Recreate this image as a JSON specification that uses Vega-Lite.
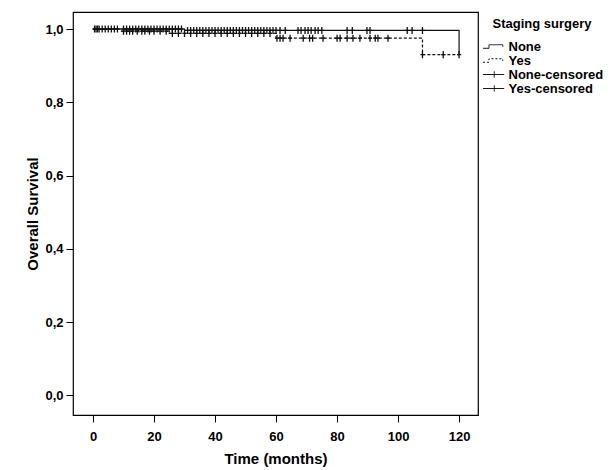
{
  "$schema": "https://vega.github.io/schema/vega-lite/v6.json",
  "autosize": "none",
  "width": 405,
  "height": 403,
  "padding": {"left": 73, "top": 12, "right": 136, "bottom": 55},
  "background": "white",
  "config": {
    "view": {"stroke": "#000", "strokeWidth": 1.2},
    "font": "Liberation Sans",
    "axis": {"grid": false, "domain": false, "tickColor": "#000", "tickSize": 7, "labelColor": "#000", "titleColor": "#000", "labelFont": "Liberation Sans", "titleFont": "Liberation Sans", "labelFontWeight": "bold", "titleFontWeight": "bold", "labelFontSize": 13, "titleFontSize": 15},
    "legend": {
      "orient": "right", "offset": -4.5, "padding": 6, "titleAnchor": "middle",
      "titleFont": "Liberation Sans", "titleFontWeight": "bold", "titleFontSize": 13, "titleColor": "#000", "titlePadding": 9,
      "labelFont": "Liberation Sans", "labelFontWeight": "bold", "labelFontSize": 13, "labelColor": "#000", "labelOffset": 15.5,
      "rowPadding": 0, "symbolSize": 50, "symbolStrokeColor": "#111", "symbolFillColor": "transparent", "symbolStrokeWidth": 1, "symbolOpacity": 1
    }
  },
  "datasets": {
    "curveNone": [
      {"series": "None", "time": 0, "surv": 1.0},
      {"series": "None", "time": 30, "surv": 0.996},
      {"series": "None", "time": 120, "surv": 0.93}
    ],
    "curveYes": [
      {"series": "Yes", "time": 0, "surv": 1.0},
      {"series": "Yes", "time": 9, "surv": 0.994},
      {"series": "Yes", "time": 25, "surv": 0.988},
      {"series": "Yes", "time": 60, "surv": 0.975},
      {"series": "Yes", "time": 108, "surv": 0.93},
      {"series": "Yes", "time": 120, "surv": 0.93}
    ],
    "censored": [
      {"series": "None-censored", "time": 0.5, "surv": 1.0},
      {"series": "None-censored", "time": 1, "surv": 1.0},
      {"series": "None-censored", "time": 1.5, "surv": 1.0},
      {"series": "None-censored", "time": 2, "surv": 1.0},
      {"series": "None-censored", "time": 3, "surv": 1.0},
      {"series": "None-censored", "time": 4, "surv": 1.0},
      {"series": "None-censored", "time": 5, "surv": 1.0},
      {"series": "None-censored", "time": 6, "surv": 1.0},
      {"series": "None-censored", "time": 7, "surv": 1.0},
      {"series": "None-censored", "time": 8, "surv": 1.0},
      {"series": "None-censored", "time": 10, "surv": 1.0},
      {"series": "None-censored", "time": 11, "surv": 1.0},
      {"series": "None-censored", "time": 12, "surv": 1.0},
      {"series": "None-censored", "time": 13, "surv": 1.0},
      {"series": "None-censored", "time": 14, "surv": 1.0},
      {"series": "None-censored", "time": 15, "surv": 1.0},
      {"series": "None-censored", "time": 16, "surv": 1.0},
      {"series": "None-censored", "time": 17, "surv": 1.0},
      {"series": "None-censored", "time": 18, "surv": 1.0},
      {"series": "None-censored", "time": 19, "surv": 1.0},
      {"series": "None-censored", "time": 20, "surv": 1.0},
      {"series": "None-censored", "time": 21, "surv": 1.0},
      {"series": "None-censored", "time": 22, "surv": 1.0},
      {"series": "None-censored", "time": 23, "surv": 1.0},
      {"series": "None-censored", "time": 24, "surv": 1.0},
      {"series": "None-censored", "time": 25, "surv": 1.0},
      {"series": "None-censored", "time": 26, "surv": 1.0},
      {"series": "None-censored", "time": 27, "surv": 1.0},
      {"series": "None-censored", "time": 28, "surv": 1.0},
      {"series": "None-censored", "time": 29, "surv": 1.0},
      {"series": "None-censored", "time": 31, "surv": 0.996},
      {"series": "None-censored", "time": 32, "surv": 0.996},
      {"series": "None-censored", "time": 33, "surv": 0.996},
      {"series": "None-censored", "time": 34, "surv": 0.996},
      {"series": "None-censored", "time": 35, "surv": 0.996},
      {"series": "None-censored", "time": 36, "surv": 0.996},
      {"series": "None-censored", "time": 37, "surv": 0.996},
      {"series": "None-censored", "time": 38, "surv": 0.996},
      {"series": "None-censored", "time": 39, "surv": 0.996},
      {"series": "None-censored", "time": 40, "surv": 0.996},
      {"series": "None-censored", "time": 41, "surv": 0.996},
      {"series": "None-censored", "time": 42, "surv": 0.996},
      {"series": "None-censored", "time": 43, "surv": 0.996},
      {"series": "None-censored", "time": 44, "surv": 0.996},
      {"series": "None-censored", "time": 45, "surv": 0.996},
      {"series": "None-censored", "time": 46, "surv": 0.996},
      {"series": "None-censored", "time": 47, "surv": 0.996},
      {"series": "None-censored", "time": 48, "surv": 0.996},
      {"series": "None-censored", "time": 49, "surv": 0.996},
      {"series": "None-censored", "time": 50, "surv": 0.996},
      {"series": "None-censored", "time": 51, "surv": 0.996},
      {"series": "None-censored", "time": 52, "surv": 0.996},
      {"series": "None-censored", "time": 53, "surv": 0.996},
      {"series": "None-censored", "time": 54, "surv": 0.996},
      {"series": "None-censored", "time": 55, "surv": 0.996},
      {"series": "None-censored", "time": 56, "surv": 0.996},
      {"series": "None-censored", "time": 57, "surv": 0.996},
      {"series": "None-censored", "time": 58, "surv": 0.996},
      {"series": "None-censored", "time": 59, "surv": 0.996},
      {"series": "None-censored", "time": 60, "surv": 0.996},
      {"series": "None-censored", "time": 61.3, "surv": 0.996},
      {"series": "None-censored", "time": 63, "surv": 0.996},
      {"series": "None-censored", "time": 67.2, "surv": 0.996},
      {"series": "None-censored", "time": 68.2, "surv": 0.996},
      {"series": "None-censored", "time": 69.5, "surv": 0.996},
      {"series": "None-censored", "time": 70.5, "surv": 0.996},
      {"series": "None-censored", "time": 71.5, "surv": 0.996},
      {"series": "None-censored", "time": 72.8, "surv": 0.996},
      {"series": "None-censored", "time": 73.8, "surv": 0.996},
      {"series": "None-censored", "time": 75, "surv": 0.996},
      {"series": "None-censored", "time": 83.3, "surv": 0.996},
      {"series": "None-censored", "time": 85, "surv": 0.996},
      {"series": "None-censored", "time": 89.8, "surv": 0.996},
      {"series": "None-censored", "time": 90.8, "surv": 0.996},
      {"series": "None-censored", "time": 103, "surv": 0.996},
      {"series": "None-censored", "time": 104.6, "surv": 0.996},
      {"series": "None-censored", "time": 108, "surv": 0.996},
      {"series": "Yes-censored", "time": 10, "surv": 0.994},
      {"series": "Yes-censored", "time": 11, "surv": 0.994},
      {"series": "Yes-censored", "time": 12, "surv": 0.994},
      {"series": "Yes-censored", "time": 13, "surv": 0.994},
      {"series": "Yes-censored", "time": 14.5, "surv": 0.994},
      {"series": "Yes-censored", "time": 16, "surv": 0.994},
      {"series": "Yes-censored", "time": 17, "surv": 0.994},
      {"series": "Yes-censored", "time": 18.5, "surv": 0.994},
      {"series": "Yes-censored", "time": 20, "surv": 0.994},
      {"series": "Yes-censored", "time": 22, "surv": 0.994},
      {"series": "Yes-censored", "time": 24, "surv": 0.994},
      {"series": "Yes-censored", "time": 26, "surv": 0.988},
      {"series": "Yes-censored", "time": 28, "surv": 0.988},
      {"series": "Yes-censored", "time": 30, "surv": 0.988},
      {"series": "Yes-censored", "time": 32, "surv": 0.988},
      {"series": "Yes-censored", "time": 34, "surv": 0.988},
      {"series": "Yes-censored", "time": 36, "surv": 0.988},
      {"series": "Yes-censored", "time": 38, "surv": 0.988},
      {"series": "Yes-censored", "time": 40, "surv": 0.988},
      {"series": "Yes-censored", "time": 42, "surv": 0.988},
      {"series": "Yes-censored", "time": 44, "surv": 0.988},
      {"series": "Yes-censored", "time": 46, "surv": 0.988},
      {"series": "Yes-censored", "time": 48, "surv": 0.988},
      {"series": "Yes-censored", "time": 50, "surv": 0.988},
      {"series": "Yes-censored", "time": 52, "surv": 0.988},
      {"series": "Yes-censored", "time": 54, "surv": 0.988},
      {"series": "Yes-censored", "time": 56, "surv": 0.988},
      {"series": "Yes-censored", "time": 58, "surv": 0.988},
      {"series": "Yes-censored", "time": 60.3, "surv": 0.975},
      {"series": "Yes-censored", "time": 61.3, "surv": 0.975},
      {"series": "Yes-censored", "time": 62.3, "surv": 0.975},
      {"series": "Yes-censored", "time": 64.6, "surv": 0.975},
      {"series": "Yes-censored", "time": 68.9, "surv": 0.975},
      {"series": "Yes-censored", "time": 71, "surv": 0.975},
      {"series": "Yes-censored", "time": 72, "surv": 0.975},
      {"series": "Yes-censored", "time": 75.4, "surv": 0.975},
      {"series": "Yes-censored", "time": 80, "surv": 0.975},
      {"series": "Yes-censored", "time": 81, "surv": 0.975},
      {"series": "Yes-censored", "time": 83.3, "surv": 0.975},
      {"series": "Yes-censored", "time": 85.2, "surv": 0.975},
      {"series": "Yes-censored", "time": 87.5, "surv": 0.975},
      {"series": "Yes-censored", "time": 90.8, "surv": 0.975},
      {"series": "Yes-censored", "time": 92.5, "surv": 0.975},
      {"series": "Yes-censored", "time": 93.4, "surv": 0.975},
      {"series": "Yes-censored", "time": 96.7, "surv": 0.975},
      {"series": "Yes-censored", "time": 108, "surv": 0.93},
      {"series": "Yes-censored", "time": 114.8, "surv": 0.93},
      {"series": "Yes-censored", "time": 120, "surv": 0.93}
    ]
  },
  "layer": [
    {
      "data": {"name": "curveNone"},
      "mark": {"type": "line", "interpolate": "step-after", "color": "#111", "strokeWidth": 1.2},
      "encoding": {
        "x": {"field": "time", "type": "quantitative", "scale": {"domain": [-6.56, 126.2], "nice": false, "zero": false},
              "axis": {"values": [0, 20, 40, 60, 80, 100, 120], "title": "Time (months)", "labelPadding": 8, "titlePadding": 8}},
        "y": {"field": "surv", "type": "quantitative", "scale": {"domain": [-0.0533, 1.0464], "nice": false, "zero": false},
              "axis": {"values": [0, 0.2, 0.4, 0.6, 0.8, 1.0], "title": "Overall Survival", "labelExpr": "replace(format(datum.value, '.1f'), '.', ',')", "labelPadding": 3, "titlePadding": 4}}
      }
    },
    {
      "data": {"name": "curveYes"},
      "mark": {"type": "line", "interpolate": "step-after", "color": "#111", "strokeWidth": 1.2, "strokeDash": [3, 2]},
      "encoding": {
        "x": {"field": "time", "type": "quantitative"},
        "y": {"field": "surv", "type": "quantitative"}
      }
    },
    {
      "data": {"name": "censored"},
      "mark": {"type": "point", "filled": false, "shape": "M-0.6,0H0.6M0,-1V1", "size": 50, "stroke": "#111", "strokeWidth": 1.3, "opacity": 1},
      "encoding": {
        "x": {"field": "time", "type": "quantitative"},
        "y": {"field": "surv", "type": "quantitative"}
      }
    },
    {
      "data": {"name": "curveYes"},
      "mark": {"type": "point", "filled": false, "opacity": 0, "size": 50, "stroke": "#111"},
      "encoding": {
        "x": {"field": "time", "type": "quantitative"},
        "y": {"field": "surv", "type": "quantitative"},
        "shape": {
          "field": "series", "type": "nominal",
          "scale": {"domain": ["None", "Yes", "None-censored", "Yes-censored"], "range": ["M-1,0.5H0.7V-0.5H4.6V0.1", "M-1,0.5H0.7V-0.5H4.6V0.1", "M-1,0H5M2.2,-0.9V0.9", "M-1,0H5M2.2,-0.9V0.9"]},
          "legend": {"title": "Staging surgery"}
        },
        "strokeDash": {
          "field": "series", "type": "nominal",
          "scale": {"domain": ["None", "Yes", "None-censored", "Yes-censored"], "range": [[1, 0], [2, 2], [1, 0], [1, 0]]},
          "legend": {"title": "Staging surgery"}
        }
      }
    }
  ]
}
